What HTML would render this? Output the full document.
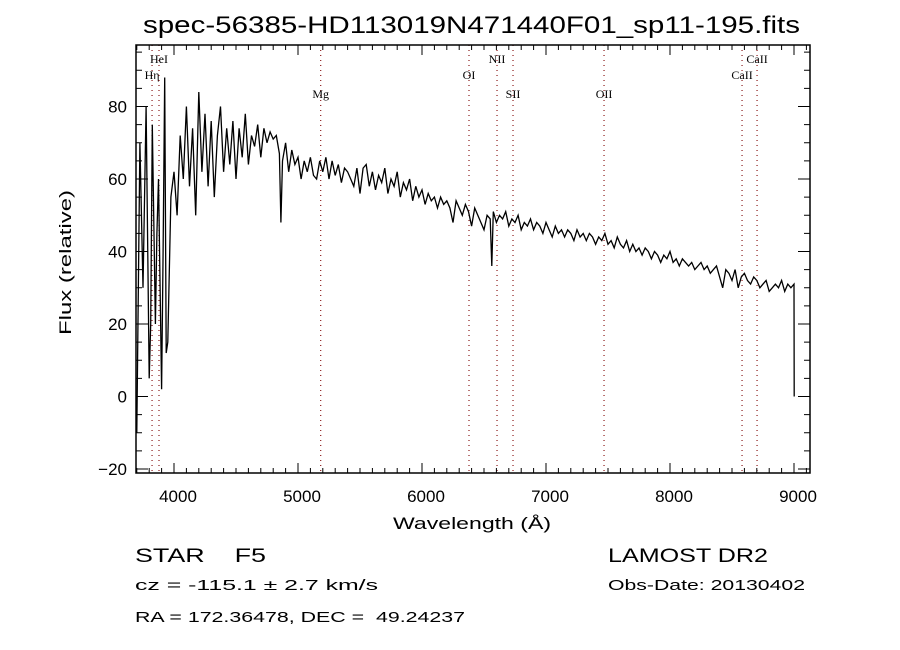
<!DOCTYPE html>
<html><head><meta charset="utf-8"><style>
body{margin:0;background:#fff;}
svg{display:block;}
text{font-family:"Liberation Sans",sans-serif;fill:#000;}
.sm{font-family:"Liberation Serif",serif;font-size:12px;}
</style></head><body>
<svg id="chart" width="900" height="650" xmlns="http://www.w3.org/2000/svg">
<rect width="900" height="650" fill="#fff"/>
<text x="143" y="33" font-size="24" textLength="657" lengthAdjust="spacingAndGlyphs">spec-56385-HD113019N471440F01_sp11-195.fits</text>
<text x="393" y="529" font-size="17" textLength="158" lengthAdjust="spacingAndGlyphs">Wavelength (Å)</text>
<text x="0" y="0" font-size="17" textLength="145" lengthAdjust="spacingAndGlyphs" transform="translate(71,335) rotate(-90)">Flux (relative)</text>
<text x="135" y="562" font-size="19" textLength="131" lengthAdjust="spacingAndGlyphs" xml:space="preserve">STAR    F5</text>
<text x="135" y="590" font-size="15" textLength="243" lengthAdjust="spacingAndGlyphs">cz = -115.1 ± 2.7 km/s</text>
<text x="135" y="622" font-size="15" textLength="330" lengthAdjust="spacingAndGlyphs" xml:space="preserve">RA = 172.36478, DEC =  49.24237</text>
<text x="608" y="562" font-size="19" textLength="160" lengthAdjust="spacingAndGlyphs">LAMOST DR2</text>
<text x="608" y="590" font-size="15" textLength="197" lengthAdjust="spacingAndGlyphs">Obs-Date: 20130402</text>
<g id="plot"></g>
</svg>
<script>
const xTicks=[4000,5000,6000,7000,8000,9000];
const yTicks=[-20,0,20,40,60,80];
const lineNames=["Hη","HeI","Mg","OI","NII","SII","OII","CaII","CaII"];
const lineWaves=[3823,3879,5183,6379,6605,6734,7468,8581,8702];
const lineLabelRow=[1,0,2,1,0,2,2,1,0];
const wlStart=3700;
const wlStep=25;
const fx=[
-10,70,30,80,5,75,20,60,
2,88,15,55,62,50,72,60,
80,58,74,50,84,62,78,58,
76,55,72,80,62,74,64,76,
60,74,66,78,64,72,69,75,
66,74,70,73,71,72,67,65,
70,62,68,64,66,60,65,62,
66,61,60,65,62,66,60,65,
61,64,59,63,62,60,58,63,
56,63,64,58,62,57,61,59,
63,56,60,58,62,55,59,57,
60,54,58,55,57,53,56,54,
55,52,55,53,54,52,48,54,
52,50,53,51,47,52,50,48,
46,50,49,51,48,50,49,51,
47,49,48,50,46,48,47,49,
46,48,47,45,48,46,44,47,
45,46,44,46,45,43,46,44,
45,43,45,44,42,44,43,45,
42,43,41,44,42,41,43,40,
42,40,41,39,41,40,38,40,
39,37,39,38,40,37,38,36,
38,37,36,37,35,36,37,35,
36,34,35,36,33,30,35,34,
32,35,30,33,34,32,31,33,
32,30,31,32,29,30,31,30,
32,29,31,30,31];
const dipWl=[3812,3862,3912,3937,4862,6563,9002];
const dipFx=[20,45,40,12,48,36,0];
const ns="http://www.w3.org/2000/svg";
const L=136,R=810,T=45,B=473;
const xS=w=>174+(w-4000)*0.124;
const yS=v=>396.5-v*3.625;
const g=document.getElementById('plot');
function mk(tag,attrs){const e=document.createElementNS(ns,tag);for(const k in attrs)e.setAttribute(k,attrs[k]);g.appendChild(e);return e;}
lineWaves.forEach((w,i)=>{
  const x=xS(w);
  const ln=mk('line',{x1:x,x2:x,y1:T,y2:B,stroke:'#8b1a1a','stroke-width':1.2,'stroke-dasharray':'1,4'});
  
  
  const ys=[63,79,98][lineLabelRow[i]];
  const t=mk('text',{x:x,y:ys,'text-anchor':'middle',class:'sm'});
  t.textContent=lineNames[i];
  
  
});
const pts=fx.map((v,i)=>[wlStart+i*wlStep,v]);
dipWl.forEach((w,i)=>pts.push([w,dipFx[i]]));
pts.sort((a,b)=>a[0]-b[0]);
let d='';
pts.forEach((p,i)=>{d+=(i?'L':'M')+xS(p[0]).toFixed(1)+','+yS(p[1]).toFixed(1);});
const p=mk('path',{d:d,fill:'none',stroke:'#000','stroke-width':1.3});


const fr=mk('rect',{x:L,y:T,width:R-L,height:B-T,fill:'none',stroke:'#000','stroke-width':1.5});


for(let w=3700;w<=9100;w+=100){
  const x=xS(w); if(x<L||x>R)continue;
  const len=(w%1000===0)?10:5;
  const t1=mk('line',{x1:x,x2:x,y1:B,y2:B-len,stroke:'#000'});
  
  
  const t2=mk('line',{x1:x,x2:x,y1:T,y2:T+len,stroke:'#000'});
  
  
}
xTicks.forEach(w=>{
  const t=mk('text',{x:xS(w)+4,y:502,'text-anchor':'middle','font-size':17});
  t.textContent=w;
  
  
});
for(let v=-20;v<=95;v+=5){
  const y=yS(v); if(y<T||y>B)continue;
  const len=(v%20===0)?12:6;
  const t1=mk('line',{x1:L,x2:L+len,y1:y,y2:y,stroke:'#000'});
  
  
  const t2=mk('line',{x1:R,x2:R-len,y1:y,y2:y,stroke:'#000'});
  
  
}
yTicks.forEach(v=>{
  const t=mk('text',{x:127,y:yS(v)+6,'text-anchor':'end','font-size':17});
  t.textContent=(v<0?'−':'')+Math.abs(v);
  
  
});
</script>
</body></html>
